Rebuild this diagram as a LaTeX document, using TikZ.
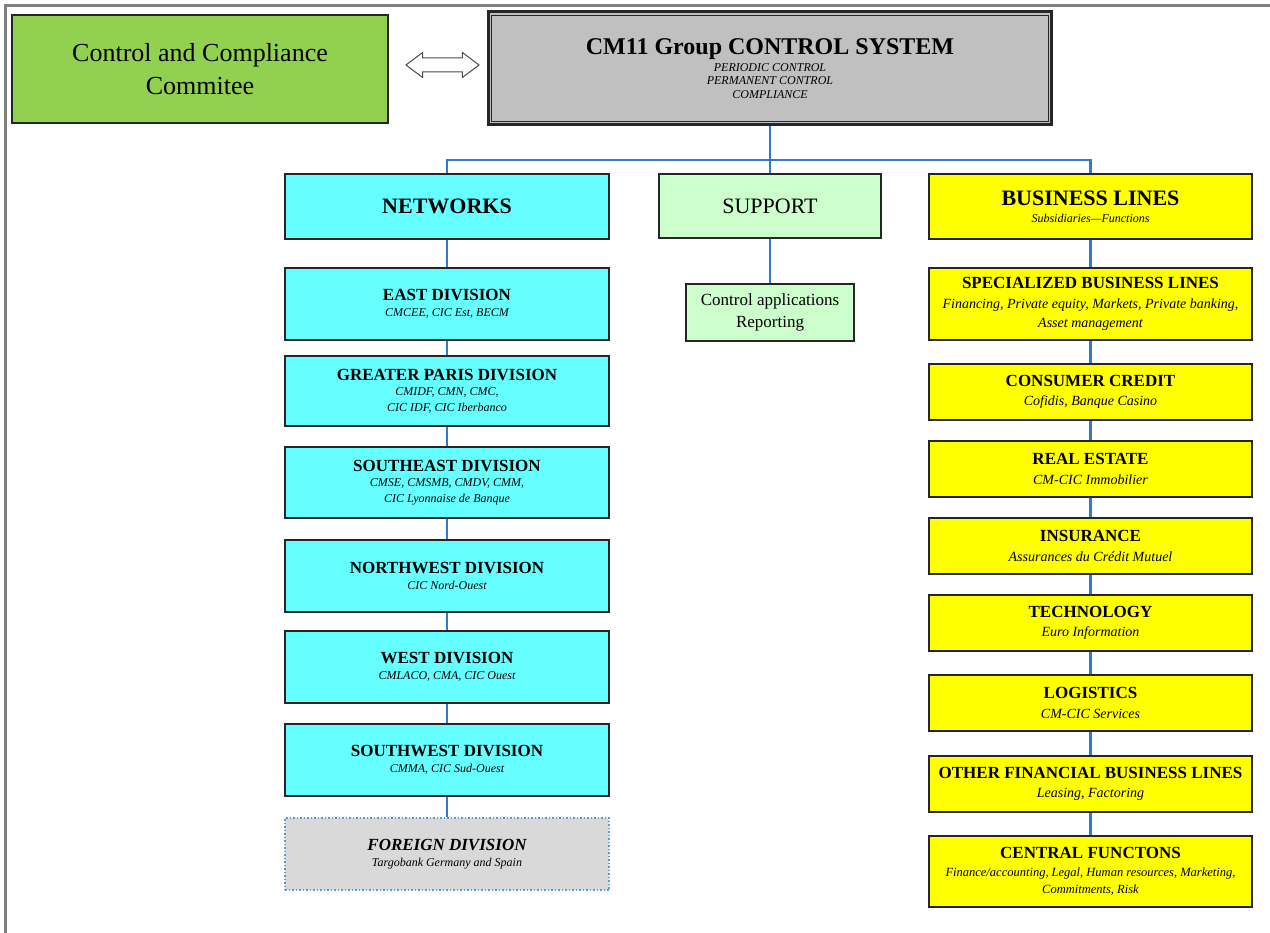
\documentclass[tikz,border=0pt]{standalone}
\usepackage{fontspec}
\setmainfont{Liberation Serif}
\usepackage{tikz}
\usetikzlibrary{shapes.arrows}
\definecolor{frameGray}{HTML}{7F7F7F}
\definecolor{boxEdge}{HTML}{262626}
\definecolor{linkBlue}{HTML}{2E7CCB}
\definecolor{committeeGreen}{HTML}{92D050}
\definecolor{systemGray}{HTML}{C0C0C0}
\definecolor{networkCyan}{HTML}{66FFFF}
\definecolor{supportGreen}{HTML}{CCFFCC}
\definecolor{lineYellow}{HTML}{FFFF00}
\definecolor{foreignGray}{HTML}{D9D9D9}
\definecolor{foreignEdge}{HTML}{5B9BD5}
\newcommand{\netNote}[1]{{\fontsize{12}{15.5}\mdseries\itshape\selectfont #1}}
\newcommand{\lineNote}[1]{{\fontsize{14}{19.5}\mdseries\itshape\selectfont #1}}
\newcommand{\smallLineNote}[1]{{\fontsize{12.5}{17}\mdseries\itshape\selectfont #1}}

\begin{document}
\begin{tikzpicture}[x=1pt, y=-1pt,
    unitBox/.style={draw=boxEdge, line width=1.5pt, inner sep=0pt, align=center},
    networkBox/.style={unitBox, fill=networkCyan, minimum width=324pt, minimum height=72pt,
      font=\fontsize{17}{15.5}\selectfont\bfseries},
    lineBox/.style={unitBox, fill=lineYellow, minimum width=323pt, minimum height=56pt,
      font=\fontsize{17}{19.5}\selectfont\bfseries},
    linkLine/.style={draw=linkBlue, line width=2.5pt}]
    \useasboundingbox (0,0) rectangle (1270,933);
    \draw[frameGray, line width=3pt] (1270,6) -- (5,6) -- (5,933);

    \node[unitBox, fill=committeeGreen, minimum width=376pt, minimum height=108pt,
      font=\fontsize{26}{33}\selectfont] (committee) at (200,69) {Control and Compliance\\Commitee};
    \node[draw=black!70, fill=white, line width=1pt, double arrow, double arrow head extend=5.5pt,
      double arrow tip angle=74, minimum height=73pt, minimum width=24pt, inner sep=6.5pt] (link) at (442.5,65) {};
    \node[unitBox, fill=systemGray, line width=3pt, minimum width=563pt, minimum height=113pt,
      font=\fontsize{12}{13.5}\selectfont\itshape] (cm) at (770,68.5)
      {{\fontsize{24}{24}\upshape\bfseries\selectfont CM11 Group CONTROL SYSTEM}\\[3pt]
       PERIODIC CONTROL\\PERMANENT CONTROL\\COMPLIANCE};
    \draw[boxEdge, line width=1.2pt] ([shift={(4.75,4.75)}]cm.north west) rectangle ([shift={(-4.75,-4.75)}]cm.south east);

    \node[networkBox, minimum height=65pt, font=\fontsize{22}{26}\selectfont\bfseries] (net) at (447,206.5) {NETWORKS};
    \node[unitBox, fill=supportGreen, minimum width=222pt, minimum height=64pt,
      font=\fontsize{22}{26}\selectfont] (sup) at (770,206) {SUPPORT};
    \node[lineBox, minimum height=65pt, font=\fontsize{22}{17}\selectfont\bfseries] (bl) at (1090.5,206.5)
      {BUSINESS LINES\\\netNote{Subsidiaries—Functions}};

    \node[networkBox] (east) at (447,304) {EAST DIVISION\\\netNote{CMCEE, CIC Est, BECM}};
    \node[networkBox, minimum height=70pt] (paris) at (447,391)
      {GREATER PARIS DIVISION\\\netNote{CMIDF, CMN, CMC,}\\\netNote{CIC IDF, CIC Iberbanco}};
    \node[networkBox, minimum height=71pt] (southeast) at (447,482.5)
      {SOUTHEAST DIVISION\\\netNote{CMSE, CMSMB, CMDV, CMM,}\\\netNote{CIC Lyonnaise de Banque}};
    \node[networkBox] (northwest) at (447,576) {NORTHWEST DIVISION\\\netNote{CIC Nord-Ouest}};
    \node[networkBox] (west) at (447,667) {WEST DIVISION\\\netNote{CMLACO, CMA, CIC Ouest}};
    \node[networkBox] (southwest) at (447,760) {SOUTHWEST DIVISION\\\netNote{CMMA, CIC Sud-Ouest}};
    \node[networkBox, fill=foreignGray, draw=foreignEdge, dotted, font=\fontsize{17}{15.5}\selectfont\bfseries\itshape]
      (foreign) at (447,854) {FOREIGN DIVISION\\\netNote{Targobank Germany and Spain}};

    \node[unitBox, fill=supportGreen, minimum width=168pt, minimum height=57pt,
      font=\fontsize{17}{22}\selectfont] (tools) at (770,312.5) {Control applications\\Reporting};

    \node[lineBox, minimum height=72pt] (special) at (1090.5,304)
      {SPECIALIZED BUSINESS LINES\\\lineNote{Financing, Private equity, Markets, Private banking,}\\\lineNote{Asset management}};
    \node[lineBox] (consumer) at (1090.5,392) {CONSUMER CREDIT\\\lineNote{Cofidis, Banque Casino}};
    \node[lineBox] (estate) at (1090.5,469) {REAL ESTATE\\\lineNote{CM-CIC Immobilier}};
    \node[lineBox] (insurance) at (1090.5,546) {INSURANCE\\\lineNote{Assurances du Crédit Mutuel}};
    \node[lineBox] (tech) at (1090.5,623) {TECHNOLOGY\\\lineNote{Euro Information}};
    \node[lineBox] (logistics) at (1090.5,703) {LOGISTICS\\\lineNote{CM-CIC Services}};
    \node[lineBox] (otherfin) at (1090.5,784) {OTHER FINANCIAL BUSINESS LINES\\\lineNote{Leasing, Factoring}};
    \node[lineBox, minimum height=71pt, font=\fontsize{17}{17.5}\selectfont\bfseries] (central) at (1090.5,871.5)
      {CENTRAL FUNCTONS\\\smallLineNote{Finance/accounting, Legal, Human resources, Marketing,}\\\smallLineNote{Commitments, Risk}};

    \coordinate (busJoint) at (770,160);
    \draw[linkLine] (cm.south) -- (busJoint);
    \draw[linkLine] (net.north) |- (busJoint) -| (bl.north);
    \draw[linkLine] (busJoint) -- (sup.north);
    \draw[linkLine] (sup) -- (tools);
    \draw[linkLine] (net) -- (east) (east) -- (paris) (paris) -- (southeast) (southeast) -- (northwest)
      (northwest) -- (west) (west) -- (southwest) (southwest) -- (foreign);
    \draw[linkLine] (bl) -- (special) (special) -- (consumer) (consumer) -- (estate) (estate) -- (insurance)
      (insurance) -- (tech) (tech) -- (logistics) (logistics) -- (otherfin) (otherfin) -- (central);
\end{tikzpicture}
\end{document}
